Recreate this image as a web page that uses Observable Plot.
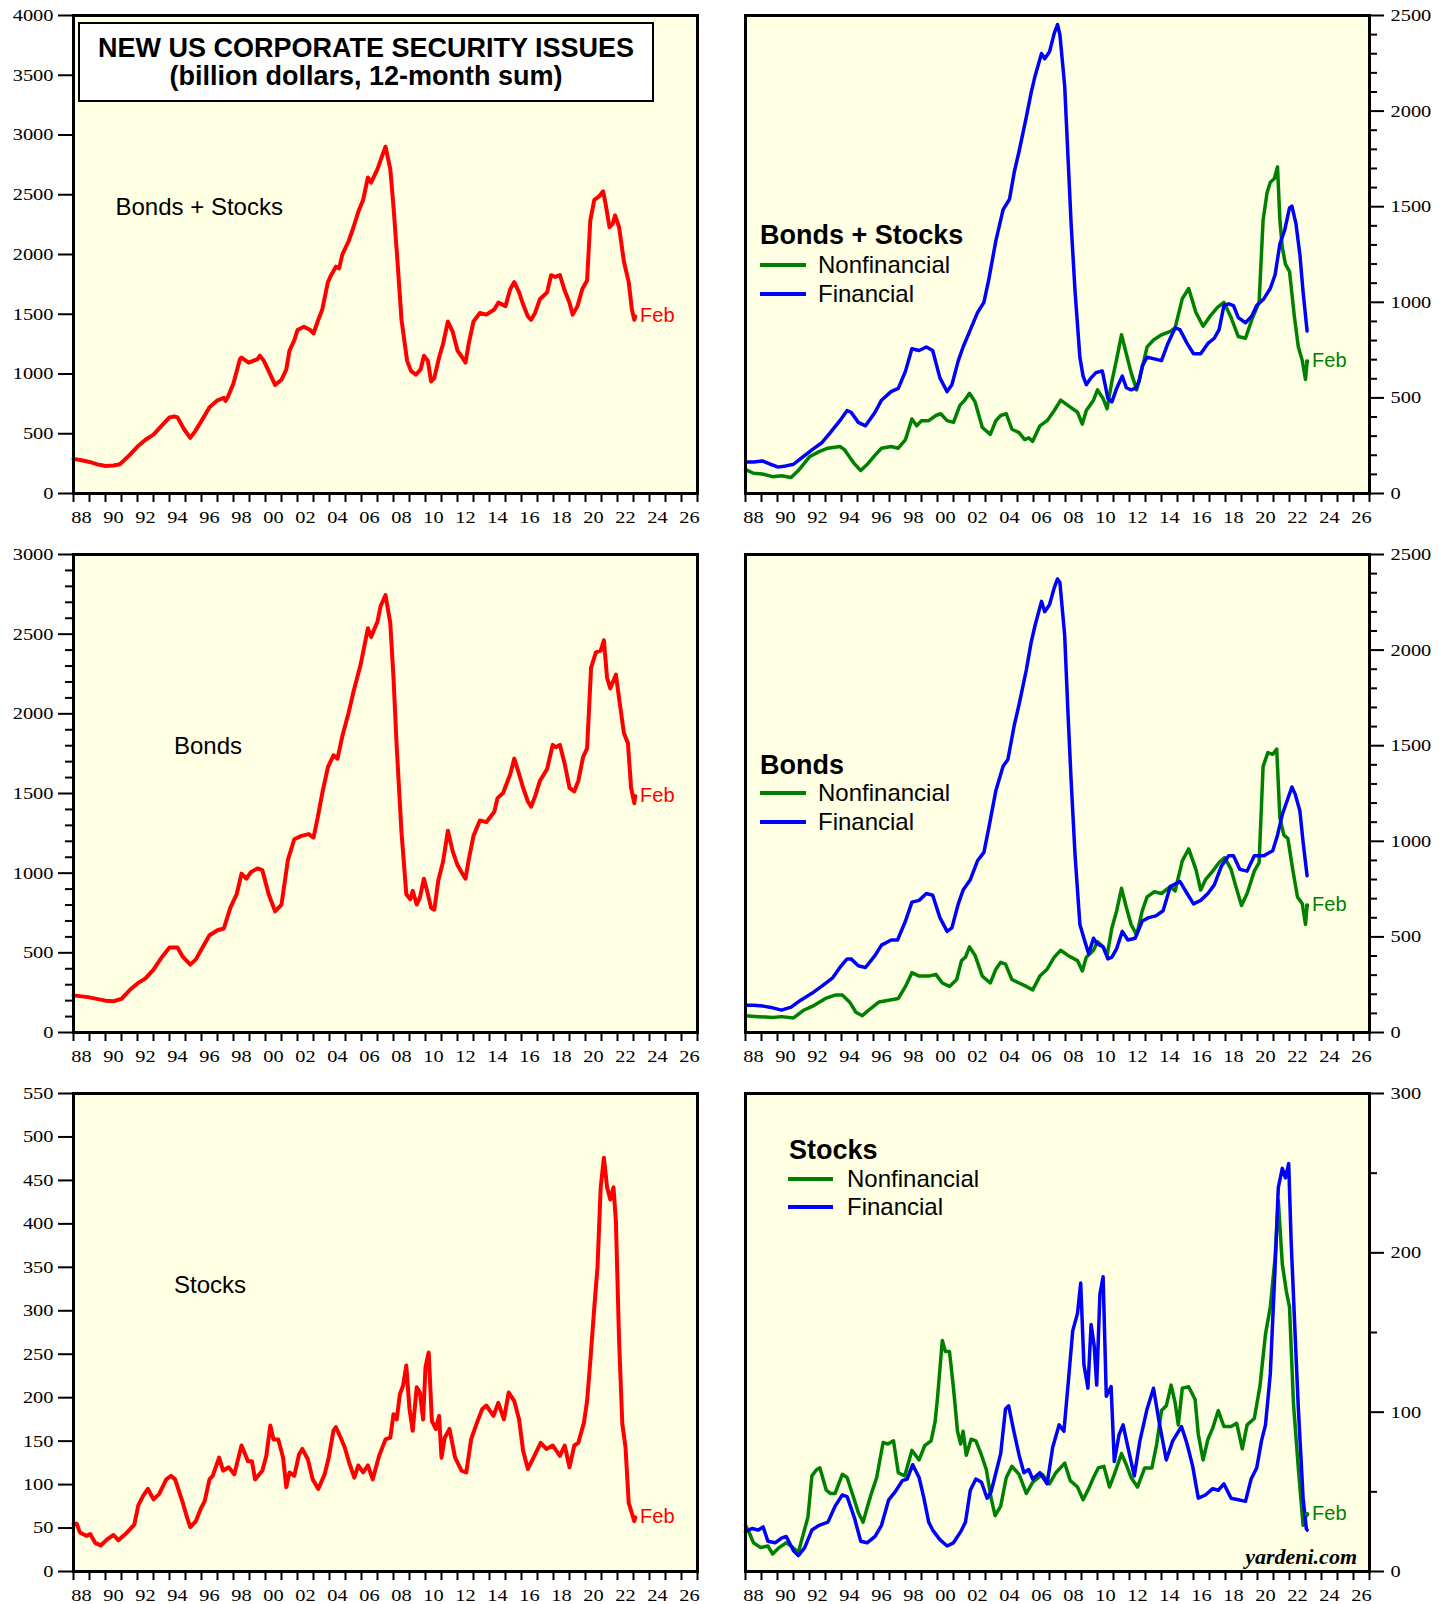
<!DOCTYPE html>
<html><head><meta charset="utf-8">
<script src="https://cdn.jsdelivr.net/npm/d3@7"></script>
<script src="https://cdn.jsdelivr.net/npm/@observablehq/plot@0.6"></script>
<style>
html,body{margin:0;padding:0;background:#fff;}
#root{position:relative;width:1450px;height:1604px;overflow:hidden;font-family:"Liberation Sans",Arial,sans-serif;color:#000;}
.panel{position:absolute;}
.ov{position:absolute;white-space:nowrap;line-height:1;}
.sw{position:absolute;height:4px;}
</style></head><body>
<div id="root"></div>
<script>
// ---------------- DATA ----------------
const xLabelYears = [1988,1990,1992,1994,1996,1998,2000,2002,2004,2006,2008,2010,2012,2014,2016,2018,2020,2022,2024,2026];
const xTickLabels = ["88","90","92","94","96","98","00","02","04","06","08","10","12","14","16","18","20","22","24","26"];

// Bonds + Stocks, total (billion $)
const totalBS = [[1988.0,290],[1988.5,278],[1989.0,264],[1989.5,244],[1990.0,230],[1990.5,235],[1990.9,245],[1991.5,321],[1992.0,393],[1992.5,450],[1993.0,493],[1993.5,565],[1994.0,637],[1994.3,645],[1994.5,637],[1994.9,540],[1995.3,465],[1995.6,520],[1996.0,608],[1996.5,722],[1997.0,780],[1997.4,800],[1997.5,775],[1997.65,808],[1998.0,923],[1998.4,1124],[1998.5,1138],[1998.95,1095],[1999.5,1124],[1999.65,1153],[1999.9,1110],[2000.2,1024],[2000.6,909],[2001.0,952],[2001.3,1038],[2001.5,1196],[2001.8,1282],[2002.0,1368],[2002.4,1396],[2002.8,1368],[2003.0,1339],[2003.3,1454],[2003.55,1540],[2003.9,1769],[2004.1,1827],[2004.4,1898],[2004.6,1884],[2004.8,1999],[2005.2,2113],[2005.5,2228],[2005.8,2357],[2006.1,2457],[2006.4,2644],[2006.6,2601],[2007.0,2715],[2007.3,2830],[2007.5,2902],[2007.8,2715],[2008.0,2400],[2008.25,1941],[2008.5,1454],[2008.85,1110],[2009.1,1024],[2009.4,995],[2009.7,1038],[2009.9,1153],[2010.15,1110],[2010.35,938],[2010.55,966],[2010.85,1138],[2011.1,1253],[2011.4,1439],[2011.7,1353],[2012.0,1196],[2012.3,1138],[2012.5,1095],[2012.7,1253],[2013.0,1439],[2013.4,1511],[2013.8,1497],[2014.3,1540],[2014.55,1597],[2015.0,1568],[2015.3,1712],[2015.55,1769],[2015.85,1683],[2016.1,1583],[2016.4,1482],[2016.6,1454],[2016.85,1511],[2017.15,1626],[2017.6,1683],[2017.85,1827],[2018.1,1812],[2018.4,1827],[2018.7,1698],[2019.0,1597],[2019.2,1497],[2019.5,1568],[2019.8,1712],[2020.1,1783],[2020.3,2285],[2020.55,2457],[2020.85,2486],[2021.1,2529],[2021.25,2429],[2021.5,2228],[2021.7,2257],[2021.85,2328],[2022.1,2228],[2022.4,1941],[2022.7,1769],[2022.9,1540],[2023.05,1454],[2023.1,1480]];

// Bonds + Stocks, nonfinancial / financial
const nonfinBS = [[1988.0,125],[1988.5,106],[1989.05,102],[1989.7,88],[1990.25,93],[1990.85,84],[1991.3,120],[1992.0,192],[1992.6,219],[1993.15,237],[1993.9,246],[1994.2,228],[1994.8,156],[1995.2,120],[1995.65,156],[1996.1,201],[1996.5,237],[1997.1,246],[1997.55,237],[1998.0,282],[1998.4,390],[1998.7,354],[1999.0,381],[1999.45,381],[1999.9,408],[2000.2,417],[2000.6,381],[2001.0,372],[2001.4,461],[2001.7,488],[2002.0,524],[2002.35,479],[2002.8,345],[2003.3,309],[2003.65,381],[2003.95,408],[2004.3,417],[2004.65,336],[2005.1,318],[2005.45,282],[2005.7,291],[2005.95,273],[2006.4,354],[2006.85,381],[2007.3,434],[2007.7,488],[2008.15,461],[2008.75,425],[2009.05,363],[2009.3,434],[2009.75,488],[2010.0,542],[2010.35,497],[2010.6,443],[2010.9,587],[2011.2,704],[2011.5,830],[2011.8,731],[2012.1,632],[2012.45,542],[2012.8,659],[2013.1,767],[2013.5,803],[2014.0,830],[2014.55,848],[2014.85,866],[2015.3,1019],[2015.7,1072],[2016.15,947],[2016.6,875],[2017.05,929],[2017.5,974],[2017.9,1000],[2018.35,920],[2018.8,821],[2019.25,812],[2019.65,911],[2020.1,1000],[2020.35,1430],[2020.6,1574],[2020.8,1628],[2021.05,1646],[2021.25,1708],[2021.4,1430],[2021.55,1287],[2021.75,1198],[2022.0,1162],[2022.3,929],[2022.55,767],[2022.8,695],[2023.0,596],[2023.1,690]];
const finBS = [[1988.0,165],[1988.5,165],[1989.05,170],[1989.55,153],[1990.05,138],[1990.4,142],[1991.0,153],[1991.45,183],[1992.15,228],[1992.75,264],[1993.3,318],[1993.9,381],[1994.35,434],[1994.6,425],[1995.05,372],[1995.5,354],[1996.1,425],[1996.5,488],[1997.1,533],[1997.55,550],[1998.0,640],[1998.4,757],[1998.85,748],[1999.3,766],[1999.7,748],[2000.15,605],[2000.6,533],[2000.9,569],[2001.3,695],[2001.6,766],[2002.05,856],[2002.5,946],[2002.9,1000],[2003.2,1117],[2003.65,1323],[2004.1,1485],[2004.5,1539],[2004.8,1682],[2005.1,1790],[2005.55,1969],[2005.85,2095],[2006.1,2184],[2006.5,2301],[2006.7,2274],[2007.0,2310],[2007.3,2408],[2007.5,2453],[2007.65,2400],[2007.95,2131],[2008.15,1771],[2008.35,1412],[2008.6,1053],[2008.9,712],[2009.1,614],[2009.3,569],[2009.6,605],[2009.9,632],[2010.3,641],[2010.65,497],[2010.9,479],[2011.2,551],[2011.55,614],[2011.8,553],[2012.1,542],[2012.4,551],[2012.6,587],[2012.8,668],[2013.1,713],[2013.55,704],[2014.0,695],[2014.4,785],[2014.85,866],[2015.15,857],[2015.6,785],[2016.0,731],[2016.45,731],[2016.9,785],[2017.3,812],[2017.6,857],[2017.9,983],[2018.2,992],[2018.5,983],[2018.8,920],[2019.25,893],[2019.65,929],[2019.95,983],[2020.4,1019],[2020.8,1072],[2021.1,1144],[2021.4,1306],[2021.7,1378],[2022.0,1494],[2022.15,1503],[2022.4,1413],[2022.65,1249],[2022.85,1053],[2023.1,850]];

// Bonds, total
const totalBonds = [[1988.0,233],[1988.9,222],[1990.0,200],[1990.5,196],[1991.0,211],[1991.5,265],[1992.0,308],[1992.5,340],[1993.0,394],[1993.5,470],[1994.0,534],[1994.5,534],[1994.8,480],[1995.3,426],[1995.65,459],[1996.0,523],[1996.5,610],[1997.0,642],[1997.4,653],[1997.8,782],[1998.2,868],[1998.5,997],[1998.8,965],[1999.1,1008],[1999.5,1030],[1999.8,1019],[2000.2,868],[2000.6,760],[2001.0,803],[2001.4,1083],[2001.8,1213],[2002.25,1234],[2002.7,1245],[2003.0,1223],[2003.25,1342],[2003.55,1503],[2003.9,1665],[2004.25,1740],[2004.5,1719],[2004.8,1859],[2005.2,2009],[2005.5,2139],[2005.95,2311],[2006.4,2537],[2006.6,2483],[2007.0,2580],[2007.2,2677],[2007.5,2746],[2007.8,2569],[2008.0,2225],[2008.2,1794],[2008.5,1256],[2008.8,868],[2009.05,836],[2009.2,889],[2009.45,803],[2009.65,846],[2009.9,965],[2010.1,889],[2010.35,782],[2010.55,771],[2010.8,954],[2011.1,1073],[2011.4,1266],[2011.7,1137],[2012.0,1051],[2012.3,997],[2012.5,965],[2012.7,1083],[2013.0,1234],[2013.4,1331],[2013.8,1320],[2014.3,1385],[2014.5,1471],[2014.85,1503],[2015.3,1622],[2015.55,1719],[2015.85,1622],[2016.1,1536],[2016.4,1450],[2016.6,1417],[2016.85,1482],[2017.15,1579],[2017.6,1654],[2017.95,1805],[2018.15,1790],[2018.4,1805],[2018.7,1686],[2019.0,1536],[2019.3,1514],[2019.55,1579],[2019.85,1729],[2020.1,1783],[2020.35,2290],[2020.65,2386],[2020.95,2397],[2021.15,2462],[2021.35,2225],[2021.55,2160],[2021.9,2246],[2022.1,2096],[2022.4,1880],[2022.65,1816],[2022.85,1536],[2023.05,1439],[2023.1,1482]];

// Bonds, nonfinancial / financial
const nonfinBonds = [[1988.0,88],[1988.8,83],[1989.7,79],[1990.25,83],[1991.0,76],[1991.6,115],[1992.3,142],[1993.0,178],[1993.6,196],[1994.05,196],[1994.5,160],[1994.9,106],[1995.3,88],[1995.8,124],[1996.35,160],[1996.95,169],[1997.55,178],[1998.0,241],[1998.4,313],[1998.85,295],[1999.45,295],[1999.9,304],[2000.3,259],[2000.75,241],[2001.2,277],[2001.5,376],[2001.75,394],[2002.0,448],[2002.35,403],[2002.8,295],[2003.3,259],[2003.65,331],[2003.95,367],[2004.25,358],[2004.65,277],[2005.1,259],[2005.55,241],[2005.95,223],[2006.4,295],[2006.85,331],[2007.3,394],[2007.7,430],[2008.15,403],[2008.75,376],[2009.05,322],[2009.3,394],[2009.75,430],[2010.0,475],[2010.35,448],[2010.6,403],[2010.9,547],[2011.2,637],[2011.5,754],[2011.8,655],[2012.1,565],[2012.45,511],[2012.8,637],[2013.1,709],[2013.55,736],[2014.0,727],[2014.55,763],[2014.85,740],[2015.3,898],[2015.7,960],[2016.15,853],[2016.45,745],[2016.75,799],[2017.2,844],[2017.6,889],[2017.95,915],[2018.35,853],[2018.65,763],[2019.0,664],[2019.35,727],[2019.8,844],[2020.1,889],[2020.35,1392],[2020.65,1464],[2020.95,1455],[2021.2,1482],[2021.4,1122],[2021.65,1032],[2021.9,1014],[2022.2,853],[2022.5,709],[2022.8,673],[2023.0,565],[2023.1,664]];
const finBonds = [[1988.0,142],[1988.5,142],[1989.1,138],[1989.7,129],[1990.25,117],[1990.85,133],[1991.45,169],[1992.15,205],[1992.75,241],[1993.45,286],[1993.9,340],[1994.35,385],[1994.6,385],[1995.05,349],[1995.5,340],[1996.1,403],[1996.5,457],[1997.1,484],[1997.5,484],[1998.0,583],[1998.4,682],[1998.85,691],[1999.3,727],[1999.7,718],[2000.15,601],[2000.6,529],[2000.9,547],[2001.3,673],[2001.6,745],[2002.05,799],[2002.5,898],[2002.9,942],[2003.2,1068],[2003.65,1266],[2004.1,1392],[2004.4,1428],[2004.8,1608],[2005.1,1716],[2005.55,1896],[2005.85,2039],[2006.1,2130],[2006.5,2255],[2006.7,2201],[2007.0,2237],[2007.3,2327],[2007.5,2372],[2007.65,2354],[2007.95,2076],[2008.15,1680],[2008.35,1320],[2008.6,924],[2008.9,565],[2009.15,493],[2009.45,412],[2009.75,493],[2009.95,466],[2010.35,448],[2010.65,385],[2010.9,394],[2011.2,439],[2011.55,529],[2011.9,484],[2012.35,493],[2012.8,583],[2013.2,601],[2013.65,610],[2014.1,637],[2014.55,763],[2015.15,790],[2015.6,727],[2016.0,673],[2016.45,691],[2016.9,727],[2017.3,772],[2017.75,871],[2018.2,924],[2018.5,924],[2018.9,853],[2019.35,844],[2019.8,924],[2020.4,924],[2020.95,951],[2021.25,1032],[2021.55,1140],[2021.85,1212],[2022.15,1284],[2022.35,1248],[2022.65,1158],[2022.85,996],[2023.1,820]];

// Stocks, total
const totalStocks = [[1988.0,55],[1988.2,55],[1988.4,45],[1988.8,41],[1989.05,43],[1989.35,33],[1989.7,30],[1990.1,37],[1990.5,42],[1990.8,36],[1991.35,45],[1991.8,54],[1992.05,76],[1992.35,87],[1992.65,95],[1993.0,83],[1993.35,89],[1993.8,106],[1994.1,110],[1994.35,106],[1994.8,81],[1995.1,62],[1995.3,51],[1995.65,58],[1995.95,72],[1996.2,81],[1996.5,106],[1996.7,110],[1997.1,131],[1997.35,116],[1997.7,120],[1998.05,112],[1998.5,145],[1998.9,127],[1999.15,127],[1999.35,106],[1999.8,116],[2000.05,133],[2000.3,168],[2000.5,152],[2000.8,152],[2001.1,131],[2001.3,97],[2001.5,114],[2001.8,110],[2002.1,135],[2002.3,141],[2002.65,129],[2002.95,106],[2003.3,95],[2003.7,112],[2003.95,131],[2004.25,162],[2004.4,166],[2004.7,154],[2004.95,143],[2005.25,124],[2005.55,108],[2005.8,122],[2006.1,114],[2006.4,122],[2006.7,106],[2007.1,133],[2007.5,152],[2007.8,154],[2008.0,181],[2008.2,175],[2008.4,204],[2008.6,214],[2008.8,237],[2009.0,187],[2009.2,162],[2009.45,212],[2009.65,206],[2009.85,175],[2010.0,235],[2010.2,252],[2010.4,173],[2010.65,164],[2010.85,179],[2011.0,131],[2011.2,154],[2011.5,164],[2011.85,131],[2012.25,116],[2012.55,114],[2012.85,152],[2013.25,173],[2013.55,187],[2013.8,191],[2014.25,179],[2014.55,194],[2014.9,175],[2015.2,206],[2015.55,196],[2015.85,175],[2016.1,139],[2016.4,118],[2016.7,129],[2017.2,148],[2017.55,141],[2017.95,145],[2018.4,133],[2018.7,145],[2019.0,120],[2019.3,145],[2019.55,148],[2019.9,171],[2020.1,196],[2020.3,242],[2020.55,304],[2020.75,350],[2020.95,442],[2021.15,476],[2021.35,442],[2021.55,428],[2021.75,442],[2021.9,403],[2022.1,265],[2022.3,170],[2022.5,143],[2022.7,79],[2023.05,58],[2023.1,62]];

// Stocks, nonfinancial / financial
const nonfinStocks = [[1988.0,29],[1988.25,24],[1988.5,18],[1988.95,15],[1989.4,16],[1989.7,11],[1990.1,15],[1990.55,18],[1990.85,16],[1991.3,12],[1991.6,23],[1991.9,34],[1992.15,60],[1992.45,64],[1992.65,65],[1993.05,51],[1993.3,49],[1993.6,49],[1994.05,61],[1994.35,59],[1994.8,45],[1995.05,37],[1995.35,31],[1995.6,40],[1995.9,50],[1996.2,59],[1996.6,81],[1996.9,80],[1997.25,82],[1997.55,62],[1997.95,60],[1998.4,76],[1998.85,70],[1999.2,79],[1999.6,82],[1999.85,94],[2000.0,109],[2000.3,145],[2000.5,138],[2000.75,138],[2001.0,115],[2001.25,88],[2001.45,80],[2001.6,88],[2001.8,73],[2002.1,83],[2002.4,82],[2002.75,73],[2003.05,64],[2003.35,46],[2003.6,35],[2003.95,41],[2004.3,59],[2004.65,66],[2005.1,61],[2005.55,49],[2005.95,56],[2006.55,61],[2007.0,55],[2007.4,62],[2007.95,68],[2008.3,57],[2008.75,53],[2009.1,45],[2009.45,52],[2009.75,59],[2010.05,65],[2010.4,66],[2010.75,53],[2011.05,61],[2011.5,74],[2011.8,67],[2012.1,59],[2012.5,53],[2012.95,65],[2013.4,65],[2013.7,80],[2014.0,101],[2014.3,104],[2014.6,117],[2014.85,106],[2015.05,92],[2015.3,115],[2015.7,116],[2016.1,108],[2016.3,86],[2016.6,70],[2016.9,83],[2017.2,90],[2017.55,101],[2017.9,91],[2018.35,91],[2018.7,93],[2019.05,77],[2019.35,92],[2019.8,96],[2020.15,116],[2020.5,149],[2020.8,166],[2021.1,197],[2021.3,233],[2021.55,193],[2021.8,176],[2022.0,166],[2022.25,105],[2022.55,65],[2022.85,29],[2023.0,34],[2023.1,36]];
const finStocks = [[1988.0,25],[1988.4,27],[1988.8,26],[1989.1,28],[1989.4,19],[1989.85,18],[1990.25,21],[1990.55,22],[1991.0,13],[1991.3,10],[1991.7,15],[1992.15,26],[1992.6,29],[1993.15,31],[1993.6,41],[1994.05,48],[1994.35,47],[1994.8,34],[1995.2,19],[1995.6,18],[1996.1,22],[1996.5,29],[1996.95,45],[1997.35,50],[1997.8,57],[1998.1,58],[1998.45,67],[1998.85,59],[1999.15,46],[1999.45,31],[1999.7,26],[2000.15,20],[2000.6,16],[2001.0,18],[2001.45,25],[2001.75,31],[2002.05,51],[2002.4,58],[2002.75,56],[2003.1,46],[2003.35,50],[2003.65,62],[2003.95,74],[2004.25,102],[2004.45,104],[2004.75,89],[2005.1,73],[2005.4,62],[2005.7,64],[2005.95,58],[2006.4,62],[2006.85,55],[2007.2,78],[2007.6,92],[2007.9,88],[2008.15,116],[2008.45,151],[2008.75,162],[2008.95,181],[2009.15,130],[2009.4,115],[2009.6,155],[2009.8,141],[2009.95,117],[2010.15,174],[2010.35,185],[2010.55,110],[2010.85,116],[2011.05,69],[2011.35,86],[2011.6,92],[2011.9,78],[2012.3,60],[2012.65,82],[2013.1,102],[2013.5,115],[2013.85,94],[2014.3,70],[2014.7,82],[2015.25,91],[2015.6,80],[2015.95,66],[2016.3,46],[2016.75,48],[2017.2,52],[2017.55,51],[2017.9,55],[2018.35,46],[2018.8,45],[2019.25,44],[2019.6,58],[2019.95,65],[2020.25,82],[2020.5,92],[2020.8,124],[2021.1,191],[2021.3,241],[2021.55,253],[2021.75,247],[2021.95,256],[2022.1,208],[2022.35,149],[2022.55,103],[2022.85,46],[2023.05,27],[2023.1,26]];

// ---------------- STYLE ----------------
const BG = "#ffffe4";
const RED = "#ff0000", GREEN = "#008000", BLUE = "#0000ff";
const SERIF = "Liberation Serif";
const SANS = "Liberation Sans";
const yearTicks = d3.range(1988, 2028);
const root = document.getElementById("root");

function panel(cfg) {
  const {left, top, h, mB, side, yMax, majors, minors, lines, feb} = cfg;
  const W = 725, mT = 15;
  const mL = side === "left" ? 73 : 20, mR = side === "left" ? 28 : 81;
  const edge = side === "left" ? 1988 : 2027;
  const insetKey = side === "left" ? "insetLeft" : "insetRight";
  const last = feb.data[feb.data.length - 1];
  const marks = [
    Plot.frame({fill: BG, stroke: "none"}),
    Plot.ruleX(yearTicks, {x: d => d, y1: () => 0, y2: () => 0, insetBottom: -9, stroke: "#000", strokeWidth: 2}),
    Plot.ruleY(majors, {y: d => d, x1: () => edge, x2: () => edge, [insetKey]: -15, stroke: "#000", strokeWidth: 2}),
    Plot.ruleY(minors, {y: d => d, x1: () => edge, x2: () => edge, [insetKey]: -8, stroke: "#000", strokeWidth: 2}),
    Plot.text(xLabelYears, {x: d => d + 0.5, y: () => 0, text: (d, i) => xTickLabels[i], dy: 24, fontSize: 17, fontFamily: SERIF, fill: "#000"}),
    Plot.text(majors, {x: () => edge, y: d => d, text: d => String(d), textAnchor: side === "left" ? "end" : "start", dx: side === "left" ? -20 : 21, fontSize: 17, fontFamily: SERIF, fill: "#000"}),
    ...lines.map(l => Plot.line(l.data, {x: d => d[0], y: d => d[1], stroke: l.color, strokeWidth: l.w, strokeLinejoin: "round", strokeLinecap: "round"})),
    Plot.dot([last], {x: d => d[0], y: d => d[1], r: 2.2, fill: feb.color, stroke: "none"}),
    Plot.text([last], {x: d => d[0], y: d => d[1], text: () => "Feb", textAnchor: "start", dx: 5, dy: -1, fill: feb.color, fontSize: 20, fontFamily: SANS}),
    Plot.frame({stroke: "#000", strokeWidth: 3})
  ];
  const svg = Plot.plot({
    width: W, height: h, marginTop: mT, marginBottom: mB, marginLeft: mL, marginRight: mR,
    x: {domain: [1988, 2027], axis: null},
    y: {domain: [0, yMax], axis: null},
    style: {background: "transparent", overflow: "visible"},
    marks
  });
  // widen the serif tick labels horizontally (the reference's Times digits are stretched);
  // the y attribute ("0.32em" baseline shift) is untouched by a horizontal scale
  svg.querySelectorAll('g[font-family="' + SERIF + '"] text').forEach(t => {
    const tr = t.getAttribute("transform");
    if (tr && /translate\(/.test(tr) && !t.hasAttribute("x")) {
      t.setAttribute("transform", tr + " scale(1.2,1)");
    }
  });
  const div = document.createElement("div");
  div.className = "panel";
  div.style.left = left + "px"; div.style.top = top + "px";
  div.appendChild(svg);
  root.appendChild(div);
}

const maj = (step, max) => d3.range(0, max + 1, step);
const minorOf = (step, majorStep, max) => d3.range(0, max + 1, step).filter(v => v % majorStep !== 0);

const rows = [{top: 0, h: 540, mB: 47}, {top: 539, h: 540, mB: 47}, {top: 1078, h: 526, mB: 33}];

panel({left: 0, ...rows[0], side: "left", yMax: 4000, majors: maj(500, 4000), minors: [],
  lines: [{data: totalBS, color: RED, w: 4}], feb: {data: totalBS, color: RED}});
panel({left: 725, ...rows[0], side: "right", yMax: 2500, majors: maj(500, 2500), minors: minorOf(100, 500, 2500),
  lines: [{data: nonfinBS, color: GREEN, w: 3.5}, {data: finBS, color: BLUE, w: 3.5}], feb: {data: nonfinBS, color: GREEN}});
panel({left: 0, ...rows[1], side: "left", yMax: 3000, majors: maj(500, 3000), minors: minorOf(100, 500, 3000),
  lines: [{data: totalBonds, color: RED, w: 4}], feb: {data: totalBonds, color: RED}});
panel({left: 725, ...rows[1], side: "right", yMax: 2500, majors: maj(500, 2500), minors: minorOf(100, 500, 2500),
  lines: [{data: nonfinBonds, color: GREEN, w: 3.5}, {data: finBonds, color: BLUE, w: 3.5}], feb: {data: nonfinBonds, color: GREEN}});
panel({left: 0, ...rows[2], side: "left", yMax: 550, majors: maj(50, 550), minors: [],
  lines: [{data: totalStocks, color: RED, w: 4}], feb: {data: totalStocks, color: RED}});
panel({left: 725, ...rows[2], side: "right", yMax: 300, majors: maj(100, 300), minors: minorOf(50, 100, 300),
  lines: [{data: nonfinStocks, color: GREEN, w: 3.5}, {data: finStocks, color: BLUE, w: 3.5}], feb: {data: nonfinStocks, color: GREEN}});

// ---------------- OVERLAY TEXT ----------------
function put(text, x, y, css, anchor) {
  const d = document.createElement("div");
  d.className = "ov"; d.textContent = text;
  d.style.left = x + "px"; d.style.top = y + "px";
  const tx = anchor === "middle" ? "-50%" : anchor === "end" ? "-100%" : "0";
  d.style.transform = `translate(${tx}, -50%)`;
  Object.assign(d.style, css || {});
  root.appendChild(d);
  return d;
}
function swatch(x1, x2, y, color) {
  const s = document.createElement("div");
  s.className = "sw";
  s.style.left = x1 + "px"; s.style.width = (x2 - x1) + "px";
  s.style.top = (y - 2) + "px"; s.style.background = color;
  root.appendChild(s);
}

// title box
const box = document.createElement("div");
Object.assign(box.style, {position: "absolute", left: "78px", top: "21.5px", width: "576px", height: "80px",
  border: "2px solid #000", background: "#fff", boxSizing: "border-box"});
root.appendChild(box);
put("NEW US CORPORATE SECURITY ISSUES", 366, 48, {fontSize: "27px", fontWeight: "bold"}, "middle");
put("(billion dollars, 12-month sum)", 366, 75.5, {fontSize: "27px", fontWeight: "bold"}, "middle");

// left panel labels
put("Bonds + Stocks", 115.5, 206.5, {fontSize: "24px"});
put("Bonds", 174, 746, {fontSize: "24px"});
put("Stocks", 174, 1285, {fontSize: "24px"});

// legends
function legend(head, x, yHead, yRow1, yRow2, swX1, swX2, textX) {
  put(head, x, yHead, {fontSize: "27px", fontWeight: "bold"});
  swatch(swX1, swX2, yRow1, GREEN);
  swatch(swX1, swX2, yRow2, BLUE);
  put("Nonfinancial", textX, yRow1, {fontSize: "24px"});
  put("Financial", textX, yRow2, {fontSize: "24px"});
}
legend("Bonds + Stocks", 760, 235, 265, 293.5, 760, 806, 818);
legend("Bonds", 760, 764.5, 793, 822, 760, 806, 818);
legend("Stocks", 789, 1150, 1179, 1207, 788, 833, 847);

put("yardeni.com", 1357, 1557, {fontSize: "22px", fontFamily: SERIF, fontWeight: "bold", fontStyle: "italic"}, "end");
</script>
</body></html>
